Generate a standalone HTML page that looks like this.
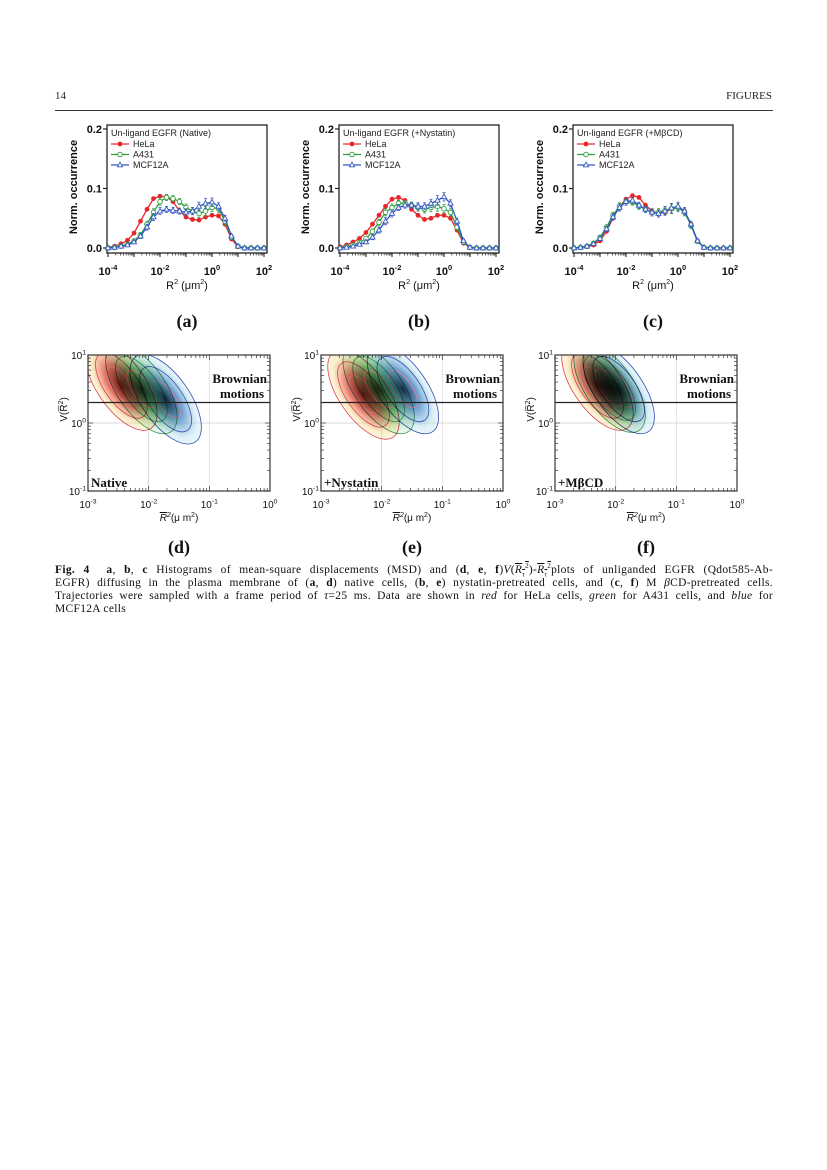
<!DOCTYPE html>
<html><head><meta charset="utf-8">
<style>
body{margin:0;background:#fff;}
#page{position:relative;width:827px;height:1170px;background:#fff;overflow:hidden;font-family:"Liberation Serif",serif;}
.hdr{position:absolute;top:90px;font-size:11px;color:#222;}
#cap{position:absolute;left:55px;top:564px;width:718px;font-size:11.5px;letter-spacing:0.3px;color:#111;}
#cap .ln{display:block;height:13px;line-height:13px;white-space:nowrap;text-align:justify;text-align-last:justify;}
#cap .ln.last{text-align-last:left;}
#cap sub,#cap sup{line-height:0;font-size:7px;}
svg text{font-family:"Liberation Sans",sans-serif;}
svg text.serif{font-family:"Liberation Serif",serif;}
</style></head>
<body>
<div id="page">
<div class="hdr" style="left:55px">14</div>
<div class="hdr" style="right:55px">FIGURES</div>
<div style="position:absolute;left:55px;top:110px;width:718px;height:1px;background:#333"></div>
<svg id="fig" width="827" height="560" style="position:absolute;left:0;top:0"></svg>
<div id="cap"><span class="ln"><b>Fig. 4</b>&nbsp; <b>a</b>, <b>b</b>, <b>c</b> Histograms of mean-square displacements (MSD) and (<b>d</b>, <b>e</b>, <b>f</b>)<i>V</i>(<span style="text-decoration:overline"><i>R<sub>τ</sub></i><sup>2</sup></span>)-<span style="text-decoration:overline"><i>R<sub>τ</sub></i><sup>2</sup></span>plots of unliganded EGFR (Qdot585-Ab-</span><span class="ln">EGFR) diffusing in the plasma membrane of (<b>a</b>, <b>d</b>) native cells, (<b>b</b>, <b>e</b>) nystatin-pretreated cells, and (<b>c</b>, <b>f</b>) M <i>β</i>CD-pretreated cells.</span><span class="ln">Trajectories were sampled with a frame period of <i>τ</i>=25 ms. Data are shown in <i>red</i> for HeLa cells, <i>green</i> for A431 cells, and <i>blue</i> for</span><span class="ln last">MCF12A cells</span></div>
</div>
<script>
// ---- histogram data (log10 R^2 from -4 to 2 step 0.25) ----
const logR = [-4,-3.75,-3.5,-3.25,-3,-2.75,-2.5,-2.25,-2,-1.75,-1.5,-1.25,-1,-0.75,-0.5,-0.25,0,0.25,0.5,0.75,1,1.25,1.5,1.75,2];
const helaA = [0.001,0.003,0.007,0.013,0.025,0.045,0.065,0.083,0.087,0.086,0.078,0.062,0.052,0.048,0.047,0.052,0.055,0.054,0.04,0.015,0.002,0,0,0,0];
const a431A = [0,0.001,0.003,0.006,0.012,0.022,0.04,0.06,0.078,0.085,0.083,0.078,0.068,0.062,0.058,0.062,0.068,0.066,0.045,0.018,0.003,0,0,0,0];
const mcfA  = [0,0.001,0.003,0.005,0.01,0.02,0.035,0.052,0.062,0.065,0.063,0.062,0.06,0.062,0.07,0.075,0.077,0.07,0.05,0.02,0.003,0,0,0,0];
const helaB = [0.002,0.005,0.01,0.016,0.026,0.04,0.055,0.07,0.082,0.085,0.08,0.065,0.055,0.048,0.05,0.055,0.055,0.05,0.03,0.008,0.001,0,0,0,0];
const a431B = [0,0.002,0.005,0.009,0.016,0.028,0.043,0.06,0.068,0.075,0.075,0.072,0.068,0.065,0.068,0.07,0.066,0.06,0.035,0.01,0.001,0,0,0,0];
const mcfB  = [0,0.001,0.003,0.006,0.01,0.018,0.03,0.045,0.058,0.068,0.072,0.072,0.07,0.07,0.075,0.08,0.086,0.075,0.045,0.012,0.001,0,0,0,0];
const helaC = [0,0.001,0.002,0.005,0.012,0.028,0.05,0.07,0.082,0.088,0.085,0.072,0.062,0.058,0.06,0.066,0.068,0.062,0.04,0.012,0.001,0,0,0,0];
const a431C = [0,0.001,0.003,0.008,0.018,0.035,0.055,0.07,0.078,0.077,0.07,0.065,0.06,0.06,0.063,0.066,0.068,0.06,0.038,0.011,0.001,0,0,0,0];
const mcfC  = [0,0.001,0.003,0.007,0.016,0.032,0.052,0.068,0.078,0.08,0.072,0.065,0.06,0.058,0.062,0.067,0.07,0.062,0.04,0.012,0.001,0,0,0,0];
const errA  = [0,0,0,0.002,0.003,0.004,0.005,0.006,0.006,0.005,0.005,0.005,0.006,0.006,0.007,0.008,0.007,0.006,0.005,0.003,0,0,0,0,0];
const yTicks = [0,0.1,0.2];
const yTickLabels = ["0.0","0.1","0.2"];
const xDecades = [-4,-2,0,2];
const panelTitles = ["Un-ligand EGFR (Native)","Un-ligand EGFR (+Nystatin)","Un-ligand EGFR (+M\u03B2CD)"];
const seriesNames = ["HeLa","A431","MCF12A"];
// ---- contour (V vs R^2) data: population centres in log10 units ----
const popNames = ["HeLa","A431","MCF12A"];
const centresD = [[-2.45,0.55],[-2.12,0.5],[-1.72,0.35]];
const centresE = [[-2.3,0.42],[-2.05,0.5],[-1.65,0.5]];
const centresF = [[-2.3,0.55],[-2.1,0.52],[-1.95,0.5]];
const contourLabels = ["Native","+Nystatin","+M\u03B2CD"];

const NS="http://www.w3.org/2000/svg";
const fig=document.getElementById('fig');
function el(tag,attrs,parent){const e=document.createElementNS(NS,tag);for(const k in attrs)e.setAttribute(k,attrs[k]);(parent||fig).appendChild(e);return e;}
function txt(s,x,y,attrs,parent){const t=el('text',Object.assign({x:x,y:y},attrs),parent);t.textContent=s;return t;}
function pow10(parent,x,y,exp,size,weight,anchor){
  const t=el('text',{x:x,y:y,'font-size':size,'font-weight':weight,'text-anchor':anchor||'middle',fill:'#111'},parent);
  const a=document.createElementNS(NS,'tspan');a.textContent='10';t.appendChild(a);
  const b=document.createElementNS(NS,'tspan');b.setAttribute('dy',-size*0.45);b.setAttribute('font-size',size*0.68);b.textContent=exp;t.appendChild(b);
  return t;
}
const colors=["#e8262a","#2e9e3e","#3558c0"];

function histPanel(px,letter,title,sets,idx){
  const L=px,R=px+160,T=125,B=253;
  const xS=v=>L+1+(v+4)/6*(R-L-4);
  const yS=v=>248-(v/0.2)*(248-129);
  const g=el('g',{});
  
  
  el('rect',{x:L,y:T,width:R-L,height:B-T,fill:'none',stroke:'#222','stroke-width':1.3},g);
  yTicks.forEach((v,i)=>{
    el('line',{x1:L-4,x2:L,y1:yS(v),y2:yS(v),stroke:'#222','stroke-width':1.2},g);
    const t=txt(yTickLabels[i],L-5,yS(v)+4,{'font-size':11,'font-weight':'bold','text-anchor':'end',fill:'#111'},g);
    
    
  });
  for(let d=-4;d<=2;d++){
    el('line',{x1:xS(d),x2:xS(d),y1:B,y2:B+4,stroke:'#222','stroke-width':1.1},g);
    if(d<2)for(let m=2;m<10;m++){const xx=xS(d+Math.log10(m));el('line',{x1:xx,x2:xx,y1:B,y2:B+2.5,stroke:'#222','stroke-width':0.7},g);}
  }
  xDecades.forEach(d=>{const t=pow10(g,xS(d),275,d,11,'bold');});
  const xl=el('text',{x:(L+R)/2,y:289,'font-size':11,'text-anchor':'middle',fill:'#111'},g);
  xl.innerHTML='R<tspan dy="-5" font-size="7">2</tspan><tspan dy="5"> (\u03BCm</tspan><tspan dy="-5" font-size="7">2</tspan><tspan dy="5">)</tspan>';
  
  
  const yl=txt('Norm. occurrence',0,0,{'font-size':11,'font-weight':'bold','text-anchor':'middle',fill:'#111',transform:`translate(${L-30},${(T+B)/2-2}) rotate(-90)`},g);
  
  
  const tt=txt(title,L+4,T+11,{'font-size':9,fill:'#222'},g);
  
  
  seriesNames.forEach((n,i)=>{
    const ly=T+22+i*10.5;
    const lg=el('g',{},g);
    
    
    el('line',{x1:L+4,x2:L+22,y1:ly-3,y2:ly-3,stroke:colors[i],'stroke-width':1.2},lg);
    marker(lg,i,L+13,ly-3);
    txt(n,L+26,ly,{'font-size':9,fill:'#222'},lg);
  });
  sets.forEach((vals,i)=>{
    const sg=el('g',{},g);
    
    
    if(i>0)vals.forEach((v,k)=>{const e=errA[k];if(e>0){el('line',{x1:xS(logR[k]),x2:xS(logR[k]),y1:yS(v-e),y2:yS(v+e),stroke:colors[i],'stroke-width':0.8,opacity:0.8},sg);
      el('line',{x1:xS(logR[k])-1.5,x2:xS(logR[k])+1.5,y1:yS(v+e),y2:yS(v+e),stroke:colors[i],'stroke-width':0.8},sg);
      el('line',{x1:xS(logR[k])-1.5,x2:xS(logR[k])+1.5,y1:yS(v-e),y2:yS(v-e),stroke:colors[i],'stroke-width':0.8},sg);}});
    el('polyline',{points:vals.map((v,k)=>xS(logR[k])+','+yS(v)).join(' '),fill:'none',stroke:colors[i],'stroke-width':1.3},sg);
    vals.forEach((v,k)=>marker(sg,i,xS(logR[k]),yS(v)));
  });
  const pl=el('text',{x:(L+R)/2,y:327,'font-size':18,'font-weight':'bold','text-anchor':'middle',fill:'#111',class:'serif'},g);
  pl.textContent='('+letter+')';
  
  
}
function marker(p,i,x,y){
  if(i===0)el('circle',{cx:x,cy:y,r:2.4,fill:colors[0]},p);
  else if(i===1)el('circle',{cx:x,cy:y,r:2.3,fill:'#fff',stroke:colors[1],'stroke-width':0.9},p);
  else el('polygon',{points:`${x},${y-2.8} ${x-2.6},${y+1.8} ${x+2.6},${y+1.8}`,fill:'#fff',stroke:colors[2],'stroke-width':0.9},p);
}

histPanel(107,'a',panelTitles[0],[helaA,a431A,mcfA],0);
histPanel(339,'b',panelTitles[1],[helaB,a431B,mcfB],1);
histPanel(573,'c',panelTitles[2],[helaC,a431C,mcfC],2);

const defs=el('defs',{});
const popFill=[["#f7e2a0","#e04030","#7a0a08"],["#bfe6c0","#2f9a45","#0b2e12"],["#bfe3f0","#3a7fbf","#0a1e40"]];
popFill.forEach((c,i)=>{
  const rg=el('radialGradient',{id:'pg'+i},defs);
  el('stop',{offset:'0%','stop-color':c[2],'stop-opacity':0.95},rg);
  el('stop',{offset:'45%','stop-color':c[1],'stop-opacity':0.75},rg);
  el('stop',{offset:'85%','stop-color':c[0],'stop-opacity':0.55},rg);
  el('stop',{offset:'100%','stop-color':c[0],'stop-opacity':0.3},rg);
});
const lineCol=["#e04050","#3a9a55","#3050b0"];

function contourPanel(L,letter,centres,label,k){
  const R=L+182,T=355,B=491;
  const xS=v=>L+(v+3)/3*(R-L);
  const yS=v=>B-(v+1)/2*(B-T);
  const g=el('g',{});
  
  
  const cp=el('clipPath',{id:'cp'+letter},defs);
  el('rect',{x:L,y:T,width:R-L,height:B-T},cp);
  el('line',{x1:xS(-2),x2:xS(-2),y1:T,y2:B,stroke:'#ccc','stroke-width':0.8},g);
  el('line',{x1:xS(-1),x2:xS(-1),y1:T,y2:B,stroke:'#ddd','stroke-width':0.8},g);
  el('line',{x1:L,x2:R,y1:yS(0),y2:yS(0),stroke:'#ccc','stroke-width':0.8},g);
  const bl=el('g',{'clip-path':`url(#cp${letter})`},g);
  
  
  centres.forEach((c,i)=>{
    const cx=xS(c[0]),cy=yS(c[1]);
    const pg=el('g',{transform:`translate(${cx},${cy}) rotate(55)`,style:'mix-blend-mode:multiply'},bl);
    
    
    el('ellipse',{cx:0,cy:0,rx:52,ry:24,fill:`url(#pg${i})`},pg);
    [[52,24],[38,17],[22,9]].forEach((s,j)=>el('ellipse',{cx:0,cy:0,rx:s[0],ry:s[1],fill:'none',stroke:j===2?'#f080a0':lineCol[i],'stroke-width':0.8},pg));
  });
  el('rect',{x:L,y:T,width:R-L,height:B-T,fill:'none',stroke:'#444','stroke-width':1.3},g);
  el('line',{x1:L,x2:R,y1:yS(Math.log10(2)),y2:yS(Math.log10(2)),stroke:'#222','stroke-width':1.3},g);
  for(let d=-3;d<0;d++)for(let m=1;m<10;m++){const xx=xS(d+Math.log10(m));const len=m===1?5:3;
    el('line',{x1:xx,x2:xx,y1:B,y2:B-len,stroke:'#333','stroke-width':0.7},g);el('line',{x1:xx,x2:xx,y1:T,y2:T+len,stroke:'#333','stroke-width':0.7},g);}
  for(let d=-1;d<1;d++)for(let m=1;m<10;m++){const yy=yS(d+Math.log10(m));const len=m===1?5:3;
    el('line',{x1:R,x2:R-len,y1:yy,y2:yy,stroke:'#333','stroke-width':0.7},g);el('line',{x1:L,x2:L+len,y1:yy,y2:yy,stroke:'#333','stroke-width':0.7},g);}
  [-3,-2,-1,0].forEach(d=>{const t=pow10(g,xS(d),508,d,10,'normal');});
  [[-1,B+4],[0,yS(0)+4],[1,T+4]].forEach(p=>{const t=pow10(g,L-2,p[1],p[0],10,'normal','end');});
  const xl=el('text',{x:(L+R)/2,y:521,'font-size':10,'text-anchor':'middle',fill:'#111'},g);
  xl.innerHTML='<tspan font-style="italic" text-decoration="overline">R<tspan dy="-4" font-size="7">2</tspan></tspan><tspan dy="4">(\u03BC m</tspan><tspan dy="-4" font-size="7">2</tspan><tspan dy="4">)</tspan>';
  
  
  const yl=el('text',{'font-size':10,'text-anchor':'middle',fill:'#111',transform:`translate(${L-21},${yS(0.2)}) rotate(-90)`},g);
  yl.innerHTML='V(R\u0305<tspan dy="-4" font-size="7">2</tspan><tspan dy="4">)</tspan>';
  
  
  const bw=el('g',{},g);
  
  
  txt('Brownian',R-3,383,{'font-size':13,'font-weight':'bold','text-anchor':'end',class:'serif',fill:'#111'},bw);
  txt('motions',R-6,398,{'font-size':13,'font-weight':'bold','text-anchor':'end',class:'serif',fill:'#111'},bw);
  const cl=txt(label,L+3,487,{'font-size':13,'font-weight':'bold',class:'serif',fill:'#111'},g);
  
  
  const pl=el('text',{x:(L+R)/2,y:553,'font-size':18,'font-weight':'bold','text-anchor':'middle',fill:'#111',class:'serif'},g);
  pl.textContent='('+letter+')';
  
  
}
contourPanel(88,'d',centresD,contourLabels[0],0);
contourPanel(321,'e',centresE,contourLabels[1],1);
contourPanel(555,'f',centresF,contourLabels[2],2);
</script>
</body></html>
